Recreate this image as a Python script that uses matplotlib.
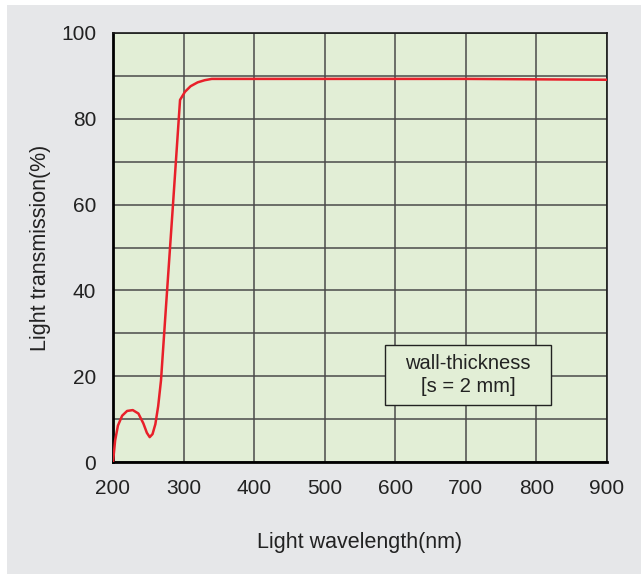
"""Light transmission vs wavelength (wall-thickness 2 mm)."""
import matplotlib
matplotlib.use("Agg")
import matplotlib.pyplot as plt
from matplotlib.patches import Rectangle

# data
wavelength = [200, 203, 207, 213, 220, 228, 236, 243, 248, 252, 256, 260, 264,
              268, 275, 285, 295, 302, 310, 320, 330, 340, 400, 500, 600, 700,
              800, 900]
transmission = [0, 5, 8.5, 10.8, 11.9, 12.1, 11.3, 9.0, 6.8, 5.8, 6.5, 8.8, 13,
                19, 36, 60, 84.4, 86.3, 87.6, 88.5, 89.0, 89.3, 89.3, 89.3, 89.3,
                89.3, 89.2, 89.1]
x_ticks = [200, 300, 400, 500, 600, 700, 800, 900]
y_ticks = [0, 20, 40, 60, 80, 100]
y_grid = list(range(0, 101, 10))

plt.rcParams["font.family"] = ["Liberation Sans", "DejaVu Sans"]

fig = plt.figure(figsize=(6.41, 5.74), dpi=100)
fig.patch.set_facecolor("white")
# grey panel with a thin white margin at top and left
fig.patches.append(Rectangle((7 / 641, 0), 1, 1 - 5 / 574, transform=fig.transFigure,
                             facecolor="#e6e7e9", edgecolor="none", zorder=-10))

ax = fig.add_axes([113 / 641, 1 - 462 / 574, 494 / 641, 429 / 574])
ax.set_facecolor("#e2eed6")

for x in x_ticks:
    ax.axvline(x, color="#4a4a4a", lw=1.1, zorder=1)
for y in y_grid:
    ax.axhline(y, color="#4a4a4a", lw=1.1, zorder=1)

ax.plot(wavelength, transmission, color="#e8202a", lw=1.8, zorder=3)

ax.set_xlim(200, 900)
ax.set_ylim(0, 100)
ax.set_xticks(x_ticks)
ax.set_yticks(y_ticks)
ax.tick_params(length=0, labelsize=15, colors="#222222")
ax.tick_params(axis="x", pad=12)
ax.tick_params(axis="y", pad=12)

for side in ("top", "right"):
    ax.spines[side].set_linewidth(1.2)
    ax.spines[side].set_color("#1a1a1a")
for side in ("left", "bottom"):
    ax.spines[side].set_linewidth(2.0)
    ax.spines[side].set_color("black")

ax.set_xlabel("Light wavelength(nm)", fontsize=15.5, color="#222222", labelpad=25)
ax.set_ylabel("Light transmission(%)", fontsize=15.5, color="#222222", labelpad=7)

# annotation box
ax.add_patch(Rectangle((585, 13.3), 235, 14, facecolor="#e2eed6",
                       edgecolor="#222222", lw=1.0, zorder=4))
ax.text(703, 20.3, "wall-thickness\n[s = 2 mm]", ha="center", va="center",
        fontsize=14.5, color="#222222", linespacing=1.3, zorder=5)

fig.savefig("out.png", dpi=100)
